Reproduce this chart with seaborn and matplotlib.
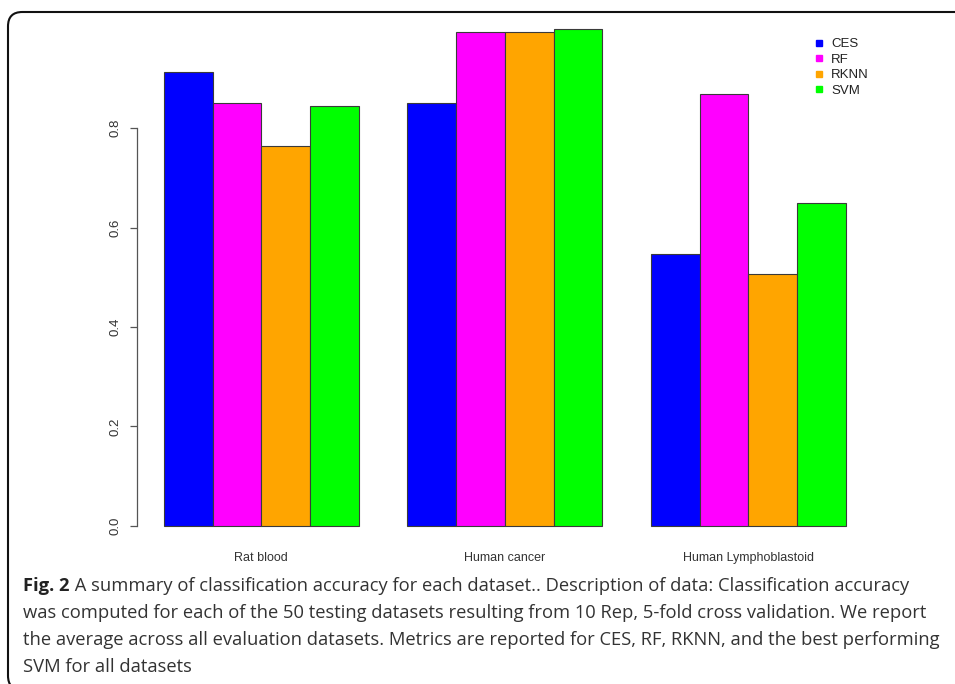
import matplotlib
matplotlib.use("Agg")
import matplotlib.pyplot as plt
from matplotlib.patches import FancyBboxPatch
from matplotlib.lines import Line2D
import seaborn as sns
import pandas as pd

# datos
datasets = ["Rat blood", "Human cancer", "Human Lymphoblastoid"]
methods = ["CES", "RF", "RKNN", "SVM"]
ces = [0.912, 0.851, 0.547]
rf = [0.850, 0.994, 0.869]
rknn = [0.764, 0.993, 0.506]
svm = [0.844, 0.999, 0.650]
colores = ["#0000ff", "#ff00ff", "#ffa500", "#00ff00"]

y_ticks = [0.0, 0.2, 0.4, 0.6, 0.8]
y_labels = ["0.0", "0.2", "0.4", "0.6", "0.8"]

caption_bold = "Fig. 2"
caption_lines = [
    " A summary of classification accuracy for each dataset.. Description of data: Classification accuracy",
    "was computed for each of the 50 testing datasets resulting from 10 Rep, 5-fold cross validation. We report",
    "the average across all evaluation datasets. Metrics are reported for CES, RF, RKNN, and the best performing",
    "SVM for all datasets",
]

# armamos el dataframe en formato largo
filas = []
for metodo, valores in zip(methods, [ces, rf, rknn, svm]):
    for ds, v in zip(datasets, valores):
        filas.append({"dataset": ds, "method": metodo, "accuracy": v})
df = pd.DataFrame(filas)

sns.set_style("white")
plt.rcParams["font.family"] = ["Liberation Sans", "DejaVu Sans"]

W, H = 955, 684
fig = plt.figure(figsize=(W / 100, H / 100), dpi=100)

# ejes en coordenadas de pixel
left, right, bottom, top = 136.7, 873.0, 550.6, 8.8
ax = fig.add_axes([left / W, 1 - bottom / H, (right - left) / W, (bottom - top) / H])
ax.patch.set_alpha(0)

sns.barplot(data=df, x="dataset", y="accuracy", hue="method", order=datasets,
            hue_order=methods, palette=colores, width=0.8, gap=0,
            edgecolor="#3a3a3a", linewidth=0.8, saturation=1, legend=False, ax=ax)

ax.set_xlim(-0.512, 2.512)
ax.set_ylim(-0.05, 1.04)
ax.set_xlabel("")
ax.set_ylabel("")

for s in ["top", "right", "bottom"]:
    ax.spines[s].set_visible(False)
ax.spines["left"].set_bounds(0, 0.8)
ax.spines["left"].set_color("#555555")
ax.spines["left"].set_linewidth(0.9)

ax.set_yticks(y_ticks)
ax.set_yticklabels(y_labels, rotation=90, va="center", fontsize=9.5, color="#333333")
ax.tick_params(axis="y", left=True, length=5, width=0.9, color="#555555", pad=6)
ax.tick_params(axis="x", bottom=False, length=0, pad=1, labelsize=9, labelcolor="#333333")

# leyenda con cuadrados pequeños
handles = [Line2D([], [], marker="s", linestyle="none", markersize=4.5,
                  markerfacecolor=c, markeredgecolor=c) for c in colores]
fig.legend(handles, methods, loc="upper left", bbox_to_anchor=(814 / W, 1 - 38 / H),
           frameon=False, fontsize=9.5, handlelength=0.8, handletextpad=0.5,
           labelspacing=0.25, borderpad=0, borderaxespad=0, labelcolor="#222222")

# recuadro redondeado
caja = FancyBboxPatch((8 / W, 1 - 690 / H), 970 / W, (690 - 12) / H,
                      boxstyle="round,pad=0,rounding_size=0.015",
                      transform=fig.transFigure, fill=False, edgecolor="#111111",
                      linewidth=1.5, mutation_aspect=W / H)
fig.patches.append(caja)

# pie de figura
cap_font = ["Open Sans", "DejaVu Sans"]
cap_size = 13.2
baselines = [591, 618, 645, 672]
t_bold = fig.text(23 / W, 1 - baselines[0] / H, caption_bold, fontsize=cap_size,
                  fontweight="bold", family=cap_font, color="#222222", va="baseline")
ax.annotate(caption_lines[0], xy=(1, 0), xycoords=t_bold, fontsize=cap_size,
            family=cap_font, color="#333333", va="bottom", ha="left",
            annotation_clip=False)
for linea, yb in zip(caption_lines[1:], baselines[1:]):
    fig.text(23 / W, 1 - yb / H, linea, fontsize=cap_size, family=cap_font,
             color="#333333", va="baseline")

fig.savefig("out.png", dpi=100)
